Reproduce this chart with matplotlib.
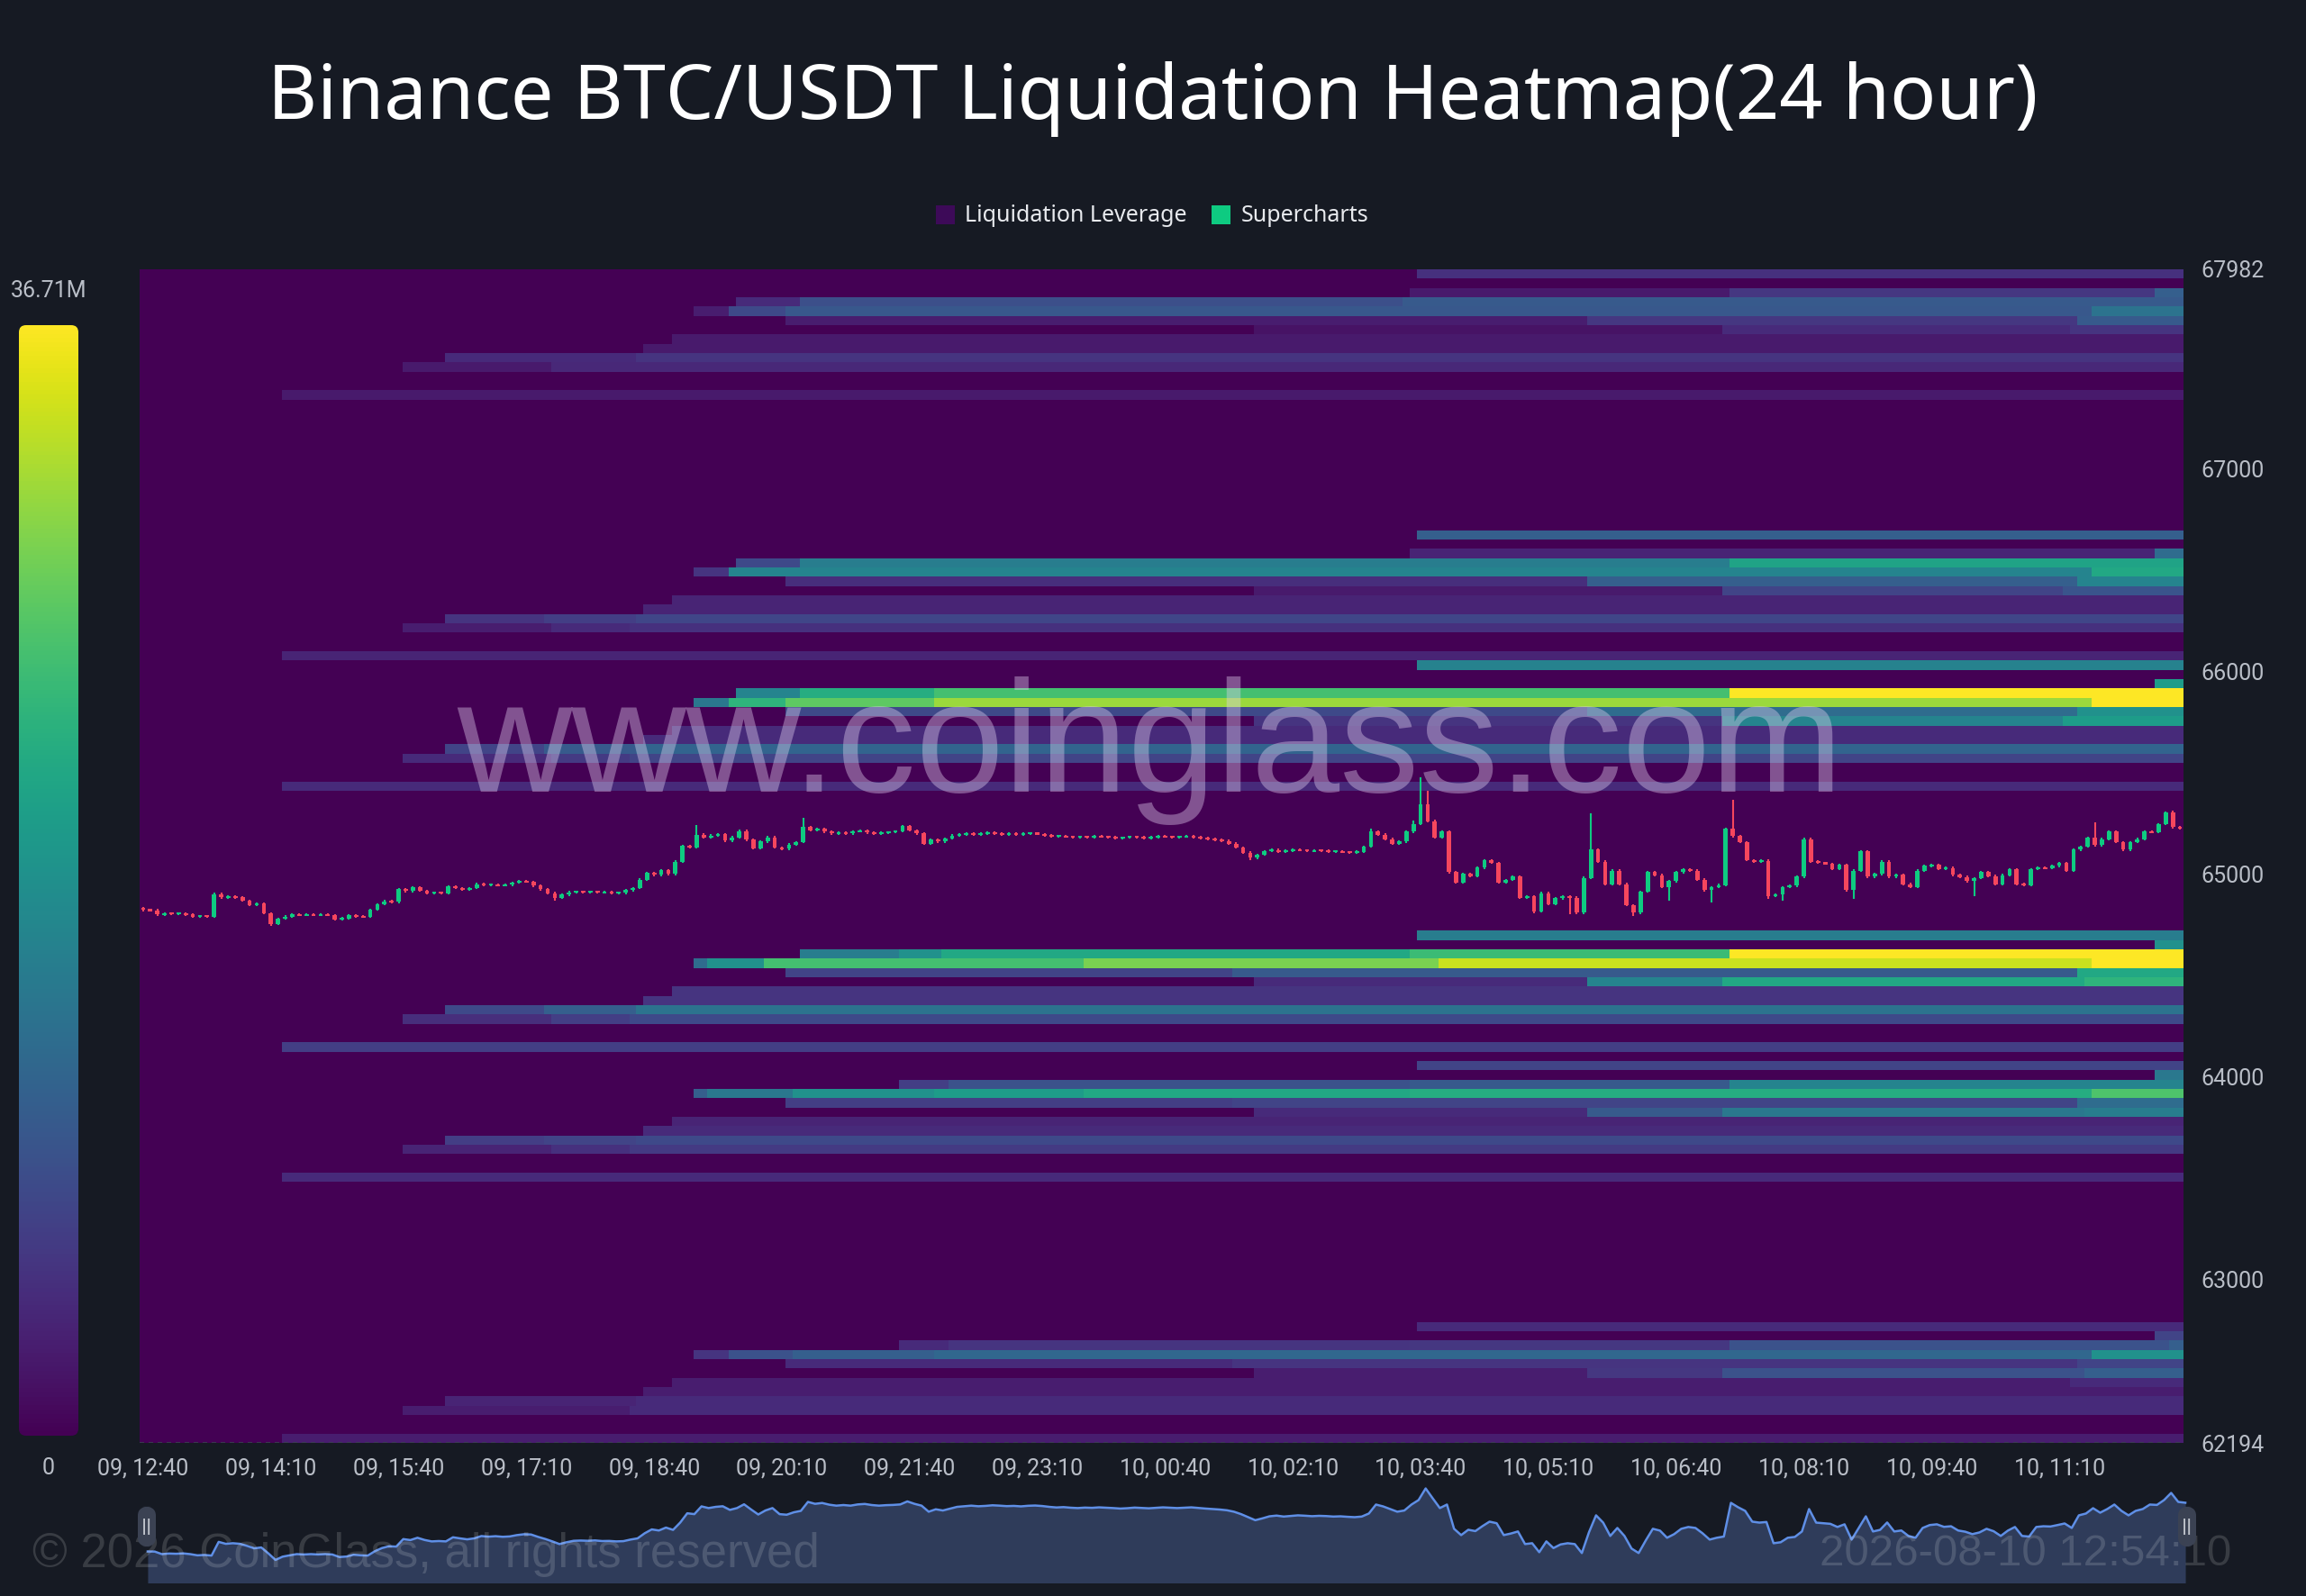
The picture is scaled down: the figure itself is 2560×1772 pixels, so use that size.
import numpy as np
import matplotlib
matplotlib.use("Agg")
import matplotlib.pyplot as plt
from matplotlib.patches import FancyBboxPatch, Rectangle

# ---------------- data ----------------
TITLE = "Binance BTC/USDT Liquidation Heatmap(24 hour)"
LEGEND_LABELS = ["Liquidation Leverage", "Supercharts"]
P_TOP, P_BOT = 67982, 62194
N_ROWS = 126
CBAR_MAX_LABEL = "36.71M"
YTICKS = [67982, 67000, 66000, 65000, 64000, 63000, 62194]
XTICK_POS = [0, 90, 180, 270, 360, 450, 540, 630, 720, 810, 900, 990, 1080, 1170, 1260, 1350]
XTICK_LABELS = ["09, 12:40", "09, 14:10", "09, 15:40", "09, 17:10", "09, 18:40", "09, 20:10",
                "09, 21:40", "09, 23:10", "10, 00:40", "10, 02:10", "10, 03:40", "10, 05:10",
                "10, 06:40", "10, 08:10", "10, 09:40", "10, 11:10"]

# liquidation bands: row index (0 = top price row), segment start minutes, level (fraction of 36.71M)
BAND_ROWS = [0, 2, 3, 4, 5, 6, 7, 8, 9, 10, 13,
             28, 30, 31, 32, 33, 34, 35, 36, 37, 38, 41,
             42, 44, 45, 46, 47, 48, 49, 50, 51, 52, 55,
             71, 72, 73, 74, 75, 76, 77, 78, 79, 80, 83,
             85, 86, 87, 88, 89, 90, 91, 92, 93, 94, 97,
             113, 114, 115, 116, 117, 118, 119, 120, 121, 122, 125]
BAND_STARTS = [
    [898], [893, 1116, 1420], [417, 462, 890], [388, 411, 455, 1372], [452, 1017, 1362],
    [782, 1112, 1360], [373], [353], [213, 347], [182, 287], [97],
    [898], [893, 1420], [417, 462, 1116], [388, 411, 1372], [452, 1017, 1362],
    [782, 1112, 1355], [373], [353], [213, 282, 347], [182, 287, 345], [97],
    [898], [1420], [417, 462, 560, 1116], [388, 411, 455, 560, 1372], [452, 1017, 1362],
    [782, 1112, 1355], [373], [353], [213, 282, 347], [182, 287, 345], [97],
    [898], [1420], [462, 532, 564, 891, 1116], [388, 400, 436, 662, 912, 1372], [452, 767, 1361],
    [782, 1016, 1111, 1367], [373], [352], [213, 282, 347], [182, 287, 345], [97],
    [898], [1420], [532, 567, 891, 1116], [388, 400, 460, 560, 662, 891, 1372], [452, 767, 1361],
    [782, 1016, 1111, 1367], [373], [352], [213, 282, 347], [182, 287, 345], [97],
    [898], [1420], [532, 567, 891, 1116, 1430], [388, 411, 460, 560, 1372], [452, 767, 1365],
    [782, 1016, 1111, 1367], [373, 1360], [352], [213, 347], [182, 345], [97],
]
BAND_LEVELS = [
    [0.14], [0.07, 0.16, 0.30], [0.12, 0.24, 0.28], [0.08, 0.22, 0.27, 0.38], [0.08, 0.16, 0.28],
    [0.05, 0.12, 0.15], [0.07], [0.07], [0.12, 0.15], [0.07, 0.11], [0.07],
    [0.30], [0.10, 0.35], [0.22, 0.42, 0.58], [0.15, 0.45, 0.60], [0.13, 0.30, 0.45],
    [0.07, 0.20, 0.26], [0.10], [0.10], [0.15, 0.18, 0.21], [0.08, 0.12, 0.14], [0.10],
    [0.44], [0.55], [0.45, 0.62, 0.70, 1.0], [0.40, 0.65, 0.75, 0.85, 1.0], [0.22, 0.35, 0.50],
    [0.15, 0.45, 0.55], [0.12], [0.12], [0.20, 0.28, 0.32], [0.12, 0.17, 0.20], [0.12],
    [0.42], [0.50], [0.42, 0.50, 0.60, 0.68, 1.0], [0.35, 0.50, 0.70, 0.80, 0.92, 1.0], [0.20, 0.28, 0.60],
    [0.12, 0.45, 0.60, 0.65], [0.15], [0.15], [0.22, 0.30, 0.38], [0.13, 0.18, 0.22], [0.18],
    [0.20], [0.40], [0.18, 0.25, 0.28, 0.45], [0.30, 0.40, 0.50, 0.55, 0.60, 0.62, 0.72], [0.18, 0.20, 0.35],
    [0.12, 0.28, 0.40, 0.42], [0.10], [0.12], [0.18, 0.20, 0.22], [0.10, 0.14, 0.17], [0.12],
    [0.12], [0.20], [0.12, 0.15, 0.16, 0.25, 0.30], [0.15, 0.25, 0.30, 0.33, 0.50], [0.12, 0.15, 0.20],
    [0.08, 0.16, 0.25, 0.30], [0.08, 0.12], [0.08], [0.10, 0.12], [0.08, 0.12], [0.08],
]

# 5-minute candles (minutes from 09 12:40)
OPEN0 = 64830
CLOSES = [
    64822, 64821, 64800, 64805, 64803, 64806, 64800, 64790, 64793, 64788,
    64901, 64885, 64890, 64885, 64868, 64848, 64855, 64806, 64752, 64779,
    64790, 64800, 64797, 64800, 64797, 64800, 64797, 64776, 64780, 64795,
    64790, 64788, 64824, 64850, 64865, 64862, 64924, 64916, 64935, 64917,
    64905, 64908, 64905, 64939, 64930, 64922, 64930, 64949, 64944, 64948,
    64943, 64946, 64957, 64964, 64962, 64942, 64925, 64905, 64883, 64898,
    64910, 64912, 64910, 64913, 64908, 64909, 64905, 64907, 64920, 64930,
    64972, 65004, 64995, 65019, 65000, 65060, 65137, 65130, 65194, 65180,
    65190, 65195, 65165, 65180, 65211, 65168, 65127, 65160, 65180, 65130,
    65125, 65145, 65157, 65231, 65215, 65222, 65208, 65200, 65205, 65200,
    65210, 65214, 65205, 65200, 65204, 65206, 65210, 65235, 65215, 65200,
    65150, 65170, 65160, 65175, 65190, 65195, 65200, 65195, 65198, 65203,
    65200, 65196, 65198, 65194, 65199, 65201, 65197, 65190, 65185, 65188,
    65183, 65180, 65184, 65182, 65186, 65183, 65180, 65176, 65179, 65184,
    65181, 65178, 65182, 65186, 65183, 65180, 65183, 65186, 65181, 65176,
    65172, 65168, 65162, 65150, 65130, 65105, 65080, 65095, 65112, 65118,
    65110, 65115, 65120, 65117, 65113, 65116, 65114, 65110, 65112, 65108,
    65105, 65110, 65135, 65209, 65194, 65172, 65150, 65160, 65209, 65246,
    65342, 65260, 65180, 65209, 65009, 64957, 65001, 64990, 65031, 65068,
    65055, 64957, 64970, 64987, 64883, 64890, 64816, 64905, 64850, 64880,
    64890, 64883, 64809, 64980, 65120, 65060, 64950, 65016, 64950, 64846,
    64809, 64913, 65009, 64994, 64935, 64965, 65009, 65024, 65016, 64972,
    64920, 64935, 64945, 65223, 65187, 65157, 65068, 65060, 65065, 64890,
    64898, 64935, 64942, 64987, 65172, 65060, 65055, 65050, 65024, 65046,
    64920, 65016, 65112, 64987, 65000, 65061, 64987, 64995, 64950, 64935,
    65016, 65040, 65046, 65025, 65030, 64995, 64985, 64965, 64979, 65009,
    64989, 64950, 64994, 65024, 64950, 64945, 65024, 65030, 65028, 65040,
    65053, 65016, 65120, 65135, 65179, 65142, 65172, 65209, 65157, 65120,
    65157, 65172, 65209, 65206, 65246, 65305, 65231, 65224,
]
HIGH_SPIKES = {10: 64910, 78: 65241, 93: 65275, 173: 65225, 179: 65265, 180: 65475,
               181: 65409, 204: 65297, 224: 65364, 275: 65253, 285: 65310}
LOW_SPIKES = {18: 64745, 58: 64870, 156: 65068, 196: 64805, 201: 64802, 202: 64800,
              210: 64794, 215: 64870, 221: 64861, 229: 64875, 231: 64868, 241: 64876, 258: 64890}

WATERMARK = "www.coinglass.com"
COPYRIGHT = "\u00a9 2026 CoinGlass, all rights reserved"
STAMP = "2026-08-10 12:54:10"

# ---------------- style ----------------
BG = "#161a23"
TXT = "#b9bec7"
UP, DOWN = "#0ecb81", "#f6465d"
W, H = 2560, 1772


def fr(x0, y0, w, h):
    return [x0 / W, 1 - (y0 + h) / H, w / W, h / H]


fig = plt.figure(figsize=(W / 100, H / 100), dpi=100, facecolor=BG)

# ---------------- heatmap ----------------
ax = fig.add_axes(fr(155, 299, 2269, 1303))
ax.set_facecolor(BG)
n_cols = len(CLOSES)
col_t = 5 * np.arange(n_cols)
time_edges = -2.5 + 5 * np.arange(n_cols + 1)
row_h = (P_TOP - P_BOT) / N_ROWS
price_edges = P_TOP - np.arange(N_ROWS + 1) * row_h
grid = np.zeros((N_ROWS, n_cols))
for row, starts, levels in zip(BAND_ROWS, BAND_STARTS, BAND_LEVELS):
    for s, v in zip(starts, levels):
        grid[row, col_t >= s] = v
ax.pcolormesh(time_edges, price_edges, grid, cmap="viridis", vmin=0, vmax=1,
              shading="flat", antialiased=False, linewidth=0)

# watermark
ax.text(0.4945, 0.59, WATERMARK, transform=ax.transAxes, ha="center", va="center",
        fontsize=127, family="Liberation Sans", color="#e0d0ee", alpha=0.40, zorder=2)

# candles
closes = np.array(CLOSES, dtype=float)
opens = np.concatenate([[OPEN0], closes[:-1]])
hi_body = np.maximum(opens, closes)
lo_body = np.minimum(opens, closes)
highs = hi_body + 6
lows = lo_body - 6
for k, v in HIGH_SPIKES.items():
    highs[k] = v
for k, v in LOW_SPIKES.items():
    lows[k] = v
colors = np.where(closes >= opens, UP, DOWN)
ax.vlines(col_t, lows, highs, colors=colors, linewidth=1.5, zorder=3)
heights = np.maximum(hi_body - lo_body, 9)
ax.bar(col_t, heights, bottom=lo_body - (heights - (hi_body - lo_body)) / 2, width=3.0,
       color=colors, linewidth=0, zorder=4)

ax.set_xlim(-2.5, 1437.5)
ax.set_ylim(P_BOT, P_TOP)
for s in ax.spines.values():
    s.set_visible(False)
ax.yaxis.tick_right()
ax.set_yticks(YTICKS)
ax.set_yticklabels([str(v) for v in YTICKS])
ax.set_xticks(XTICK_POS)
ax.set_xticklabels(XTICK_LABELS)
ax.tick_params(axis="y", length=0, pad=14, labelsize=18, labelcolor=TXT)
ax.tick_params(axis="x", length=0, pad=12, labelsize=18, labelcolor=TXT)
for lab in ax.get_xticklabels() + ax.get_yticklabels():
    lab.set_family("Roboto")
ax.axhline(P_BOT, color="#3a4150", lw=1.2, ls=(0, (3, 3)), zorder=5)

# ---------------- title & legend ----------------
fig.text(0.5, 1 - 110 / H, TITLE, ha="center", va="center", fontsize=61,
         family="Noto Sans", color="white")
fig.patches.append(Rectangle((1039 / W, 1 - 249 / H), 21 / W, 21 / H, transform=fig.transFigure,
                             facecolor="#3d0a58", edgecolor="none"))
fig.text(1071 / W, 1 - 239 / H, LEGEND_LABELS[0], ha="left", va="center", fontsize=18,
         family="Noto Sans", color="#e8eaee")
fig.patches.append(Rectangle((1345 / W, 1 - 249 / H), 21 / W, 21 / H, transform=fig.transFigure,
                             facecolor=UP, edgecolor="none"))
fig.text(1378 / W, 1 - 239 / H, LEGEND_LABELS[1], ha="left", va="center", fontsize=18,
         family="Noto Sans", color="#e8eaee")

# ---------------- colour bar ----------------
cax = fig.add_axes(fr(21, 361, 66, 1233))
cax.set_axis_off()
grad = np.linspace(1, 0, 256).reshape(-1, 1)
im = cax.imshow(grad, cmap="viridis", aspect="auto", extent=[0, 1, 0, 1], vmin=0, vmax=1)
clip = FancyBboxPatch((0, 0), 1, 1, boxstyle="round,pad=0,rounding_size=0.12",
                      mutation_aspect=66 / 1233, transform=cax.transAxes,
                      facecolor="none", edgecolor="none")
cax.add_patch(clip)
im.set_clip_path(clip)
cax.set_xlim(0, 1)
cax.set_ylim(0, 1)
fig.text(54 / W, 1 - 323 / H, CBAR_MAX_LABEL, ha="center", va="center", fontsize=18,
         family="Roboto", color=TXT)
fig.text(54 / W, 1 - 1630 / H, "0", ha="center", va="center", fontsize=18,
         family="Roboto", color=TXT)

# ---------------- navigator ----------------
nax = fig.add_axes(fr(160, 1625, 2270, 132))
nax.set_facecolor("#1b2131")
nax.fill_between(col_t, closes, 64000, color="#2f3c5a", linewidth=0)
nax.plot(col_t, closes, color="#5f8fe6", lw=1.8)
nax.set_xlim(-2.5, 1437.5)
nax.set_ylim(64566, 65547)
nax.set_axis_off()
for xp in (163, 2428):
    fig.patches.append(FancyBboxPatch(((xp - 10) / W, 1 - 1718 / H), 20 / W, 46 / H,
                                      boxstyle="round,pad=0,rounding_size=0.006",
                                      transform=fig.transFigure, facecolor="#3b4253",
                                      edgecolor="none", zorder=5))
    fig.text(xp / W, 1 - 1695 / H, "||", ha="center", va="center", fontsize=12,
             color="#c0c4cc", zorder=6, fontweight="bold")

fig.text(36 / W, 1 - 1726 / H, COPYRIGHT, ha="left", va="center", fontsize=38,
         family="Liberation Sans", color="white", alpha=0.15)
fig.text(2477 / W, 1 - 1726 / H, STAMP, ha="right", va="center", fontsize=35.5,
         family="Liberation Sans", color="white", alpha=0.15)

fig.savefig("out.png", dpi=100, facecolor=BG)
